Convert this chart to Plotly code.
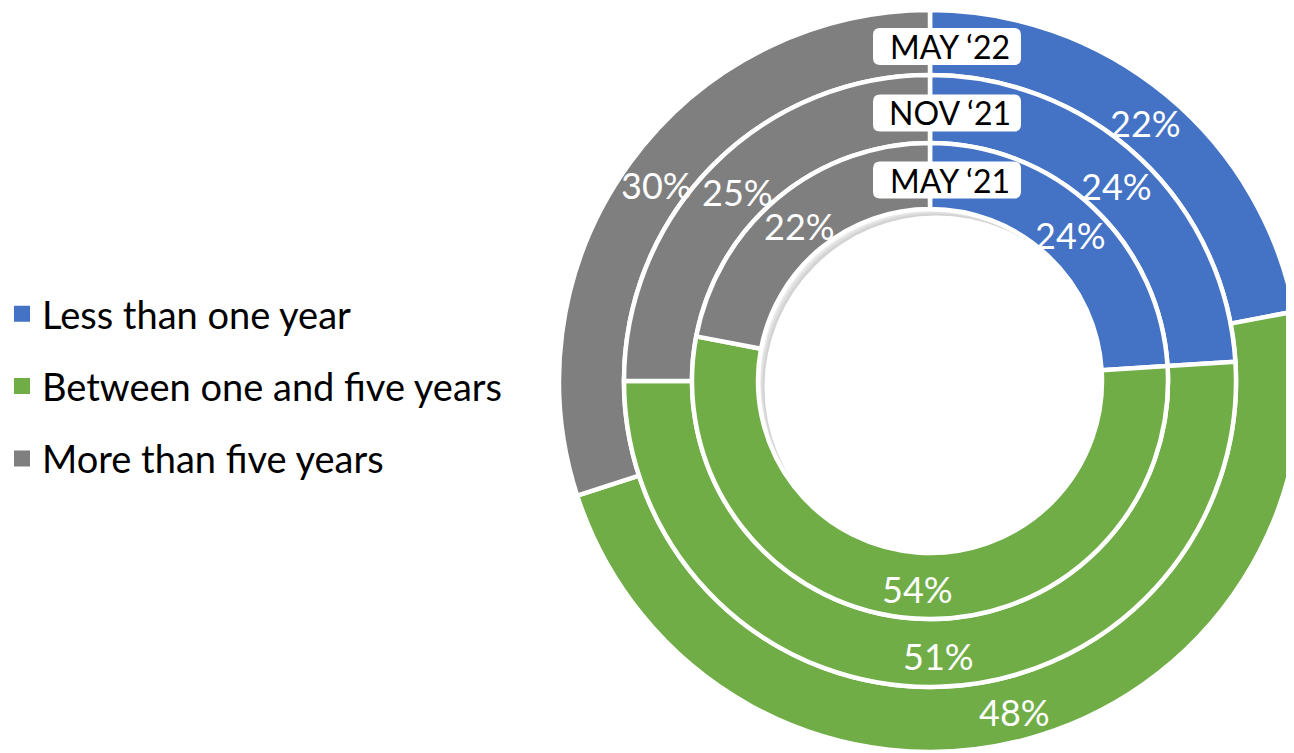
import math
import plotly.graph_objects as go

# ---- data ----
categories = ["Less than one year", "Between one and five years", "More than five years"]
colors = ["#4472C4", "#70AD47", "#7F7F7F"]
periods = ["MAY ‘22", "NOV ‘21", "MAY ‘21"]
may22 = [22, 48, 30]
nov21 = [24, 51, 25]
may21 = [24, 54, 22]
series = [may22, nov21, may21]

# ---- layout constants (pixels, page coordinates) ----
W, H = 1294, 753
OFF = 8                      # default page margin in front of the figure
CX, CY = 930 - OFF, 381 - OFF
radii = [371, 306, 238, 172]   # outer edges of rings, last = hole
FONT = "Lato"


def px(x):
    return x / W


def py(y):
    return 1 - y / H


def rounded_rect(x0, y0, x1, y1, r):
    """SVG path (paper coords) of a rounded rectangle given in pixels."""
    pts = [
        f"M{px(x0 + r)},{py(y0)}", f"L{px(x1 - r)},{py(y0)}",
        f"Q{px(x1)},{py(y0)} {px(x1)},{py(y0 + r)}", f"L{px(x1)},{py(y1 - r)}",
        f"Q{px(x1)},{py(y1)} {px(x1 - r)},{py(y1)}", f"L{px(x0 + r)},{py(y1)}",
        f"Q{px(x0)},{py(y1)} {px(x0)},{py(y1 - r)}", f"L{px(x0)},{py(y0 + r)}",
        f"Q{px(x0)},{py(y0)} {px(x0 + r)},{py(y0)}", "Z",
    ]
    return " ".join(pts)


fig = go.Figure()

# soft inner shadow of the hole (decoration)
hole_r = radii[-1]
shadow = [(0, "rgba(0,0,0,0.04)"), (1.5, "rgba(0,0,0,0.04)"), (3, "rgba(0,0,0,0.05)"),
          (4.5, "rgba(0,0,0,0.05)"), (6.5, "white")]
for off, col in shadow:
    fig.add_shape(type="circle", xref="paper", yref="paper", layer="below",
                  x0=px(CX - hole_r + off), x1=px(CX + hole_r + off),
                  y0=py(CY + hole_r + off), y1=py(CY - hole_r + off),
                  fillcolor=col, line=dict(width=0))

for i, (name, vals) in enumerate(zip(periods, series)):
    r_out, r_in = radii[i], radii[i + 1]
    fig.add_trace(go.Pie(
        labels=categories, values=vals, name=name,
        sort=False, direction="clockwise", rotation=0,
        hole=r_in / r_out,
        domain=dict(x=[max(0, px(CX - r_out)), min(1, px(CX + r_out))],
                    y=[max(0, py(CY + r_out)), min(1, py(CY - r_out))]),
        marker=dict(colors=colors, line=dict(color="white", width=4.5)),
        textinfo="none", showlegend=False,
        hovertemplate="%{label}: %{value}%<extra>" + name + "</extra>",
    ))
    # value labels at slice centroids
    rm = (r_out + r_in) / 2
    start = 0
    for v in vals:
        mid = (start + v / 2) / 100 * 2 * math.pi
        start += v
        fig.add_annotation(x=px(CX + rm * math.sin(mid)), y=py(CY - rm * math.cos(mid)),
                           xref="paper", yref="paper", xanchor="center", yanchor="middle",
                           text=f"{v}%", showarrow=False, yshift=-3,
                           font=dict(family=FONT, size=36, color="white"))
    # ring name tag (rounded white box + text)
    tx, ty = CX + 17, CY - rm + 4
    fig.add_shape(type="path", xref="paper", yref="paper", layer="above",
                  path=rounded_rect(tx - 74, ty - 18.5, tx + 74, ty + 18.5, 7),
                  fillcolor="white", line=dict(width=0))
    fig.add_annotation(x=px(tx + 3), y=py(ty), xref="paper", yref="paper",
                       xanchor="center", yanchor="middle",
                       text=name, showarrow=False,
                       font=dict(family=FONT, size=32, color="black"))

# legend entries
for cat, col in zip(categories, colors):
    fig.add_trace(go.Scatter(x=[None], y=[None], mode="markers", name=cat,
                             legendgroup=cat,
                             marker=dict(symbol="square", size=16, color=col)))

fig.update_layout(
    width=W, height=H,
    margin=dict(l=0, r=0, t=0, b=0, autoexpand=False),
    paper_bgcolor="white", plot_bgcolor="white",
    xaxis=dict(visible=False), yaxis=dict(visible=False),
    legend=dict(x=-6 / W, xanchor="left", y=py(386.5 - OFF), yanchor="middle",
                font=dict(family=FONT, size=38, color="black"),
                traceorder="grouped", tracegroupgap=20,
                bgcolor="rgba(0,0,0,0)"),
    font=dict(family=FONT),
)

fig.write_html("out.html")
